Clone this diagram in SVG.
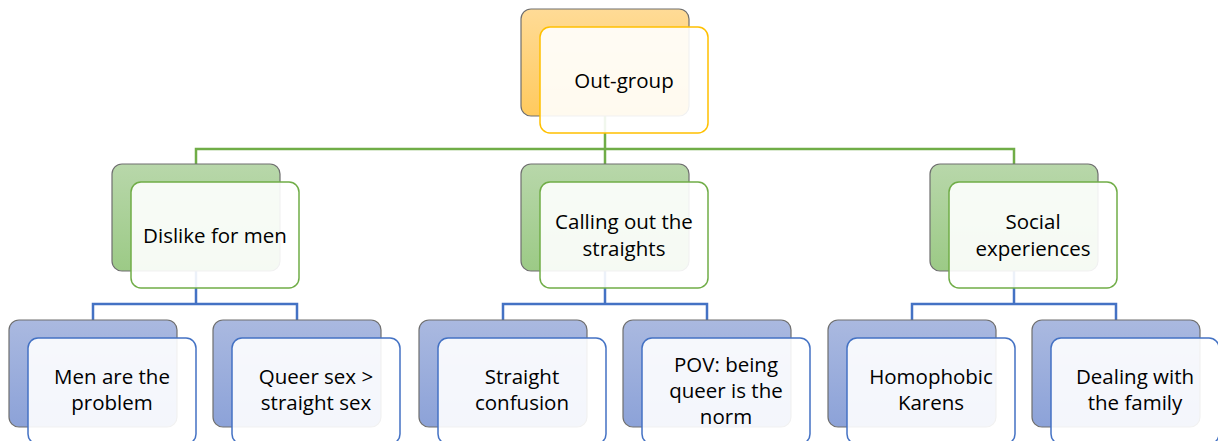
<svg xmlns="http://www.w3.org/2000/svg" width="1218" height="441" viewBox="0 0 1218 441">
<defs>
<linearGradient id="gOrange" x1="0" y1="0" x2="0" y2="1"><stop offset="0" stop-color="#ffdb96"/><stop offset="1" stop-color="#ffca5e"/></linearGradient>
<linearGradient id="gGreen" x1="0" y1="0" x2="0" y2="1"><stop offset="0" stop-color="#b8d7aa"/><stop offset="1" stop-color="#9cca86"/></linearGradient>
<linearGradient id="gBlue" x1="0" y1="0" x2="0" y2="1"><stop offset="0" stop-color="#aab9e0"/><stop offset="1" stop-color="#8ca2d8"/></linearGradient>
<style>
.back{stroke:#6f6f6f;stroke-width:1.2;}
.front{fill:#ffffff;fill-opacity:0.9;stroke-width:1.5;}
.o .back{fill:url(#gOrange);} .o .front{stroke:#ffc000;}
.g .back{fill:url(#gGreen);} .g .front{stroke:#70ad47;}
.b .back{fill:url(#gBlue);} .b .front{stroke:#4472c4;}
text{font-family:"Open Sans","Liberation Sans",sans-serif;font-size:20.5px;fill:#000;text-anchor:middle;}
.cg{fill:none;stroke:#70ad47;stroke-width:2.5;}
.cb{fill:none;stroke:#4472c4;stroke-width:2.5;}
</style>
</defs>
<g id="connectors">
<path class="cg" d="M605,116 V149 M196,164 V149 H1014 V164 M605,149 V164"/>
<path class="cb" d="M196,271 V304 M93,320 V304 H297 V320"/>
<path class="cb" d="M605,271 V304 M503,320 V304 H707 V320"/>
<path class="cb" d="M1014,271 V304 M912,320 V304 H1116 V320"/>
</g>
<g id="n-outgroup" class="o">
<rect class="back" x="521" y="9" width="168" height="107" rx="10"/>
<rect class="front" x="540" y="27" width="168" height="106" rx="10"/>
<text x="624" y="88">Out-group</text>
</g>
<g id="n-dislike" class="g">
<rect class="back" x="112" y="164" width="168" height="107" rx="10"/>
<rect class="front" x="131" y="182" width="168" height="106" rx="10"/>
<text x="215" y="243">Dislike for men</text>
</g>
<g id="n-calling" class="g">
<rect class="back" x="521" y="164" width="168" height="107" rx="10"/>
<rect class="front" x="540" y="182" width="168" height="106" rx="10"/>
<text x="624" y="229">Calling out the</text>
<text x="624" y="256">straights</text>
</g>
<g id="n-social" class="g">
<rect class="back" x="930" y="164" width="168" height="107" rx="10"/>
<rect class="front" x="949" y="182" width="168" height="106" rx="10"/>
<text x="1033" y="229">Social</text>
<text x="1033" y="256">experiences</text>
</g>
<g id="n-men" class="b">
<rect class="back" x="9" y="320" width="168" height="107" rx="10"/>
<rect class="front" x="28" y="338" width="168" height="106" rx="10"/>
<text x="112" y="384">Men are the</text>
<text x="112" y="410">problem</text>
</g>
<g id="n-queersex" class="b">
<rect class="back" x="213" y="320" width="168" height="107" rx="10"/>
<rect class="front" x="232" y="338" width="168" height="106" rx="10"/>
<text x="316" y="384">Queer sex &gt;</text>
<text x="316" y="410">straight sex</text>
</g>
<g id="n-straight" class="b">
<rect class="back" x="419" y="320" width="168" height="107" rx="10"/>
<rect class="front" x="438" y="338" width="168" height="106" rx="10"/>
<text x="522" y="384">Straight</text>
<text x="522" y="410">confusion</text>
</g>
<g id="n-pov" class="b">
<rect class="back" x="623" y="320" width="168" height="107" rx="10"/>
<rect class="front" x="642" y="338" width="168" height="106" rx="10"/>
<text x="726" y="372">POV: being</text>
<text x="726" y="398">queer is the</text>
<text x="726" y="424">norm</text>
</g>
<g id="n-karens" class="b">
<rect class="back" x="828" y="320" width="168" height="107" rx="10"/>
<rect class="front" x="847" y="338" width="168" height="106" rx="10"/>
<text x="931" y="384">Homophobic</text>
<text x="931" y="410">Karens</text>
</g>
<g id="n-family" class="b">
<rect class="back" x="1032" y="320" width="168" height="107" rx="10"/>
<rect class="front" x="1051" y="338" width="168" height="106" rx="10"/>
<text x="1135" y="384">Dealing with</text>
<text x="1135" y="410">the family</text>
</g>
</svg>
